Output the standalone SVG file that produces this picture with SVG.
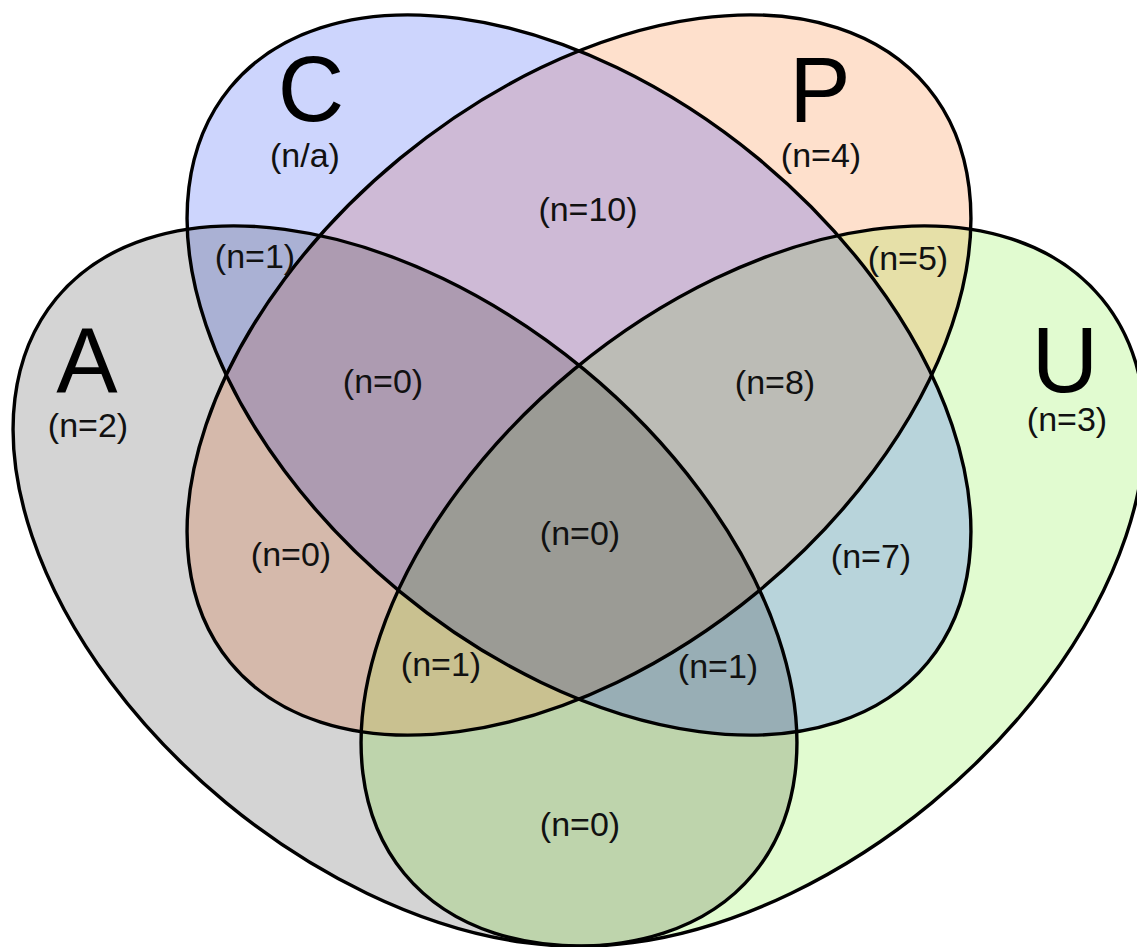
<svg xmlns="http://www.w3.org/2000/svg" xmlns:xlink="http://www.w3.org/1999/xlink" width="1137" height="947" viewBox="0 0 1137 947">
<defs>
<style>
.o{fill:none;stroke:#000;stroke-width:3.4}
.big{font-family:"Liberation Sans",Arial,sans-serif;font-size:92px;text-anchor:middle;fill:#000}
.n{font-family:"Liberation Sans",Arial,sans-serif;font-size:34px;text-anchor:middle;fill:#111}
</style>
<ellipse id="eA" cx="405" cy="586" rx="452" ry="281" transform="rotate(39.5 405 586)"/>
<ellipse id="eC" cx="579" cy="375" rx="452" ry="281" transform="rotate(39.5 579 375)"/>
<ellipse id="eP" cx="579" cy="375" rx="452" ry="281" transform="rotate(-39.5 579 375)"/>
<ellipse id="eU" cx="753" cy="586" rx="452" ry="281" transform="rotate(-39.5 753 586)"/>
<clipPath id="kA"><use href="#eA"/></clipPath>
<clipPath id="kC"><use href="#eC"/></clipPath>
<clipPath id="kP"><use href="#eP"/></clipPath>
<clipPath id="kU"><use href="#eU"/></clipPath>
</defs>
<rect width="1137" height="947" fill="#fff"/>
<g id="regions">
<use href="#eA" fill="#d4d4d4"/>
<use href="#eU" fill="#e1fbd0"/>
<use href="#eC" fill="#cdd5fd"/>
<use href="#eP" fill="#fee0cc"/>
<g clip-path="url(#kA)"><use href="#eC" fill="#aab1d4"/></g>
<g clip-path="url(#kA)"><use href="#eP" fill="#d5b9ab"/></g>
<g clip-path="url(#kA)"><use href="#eU" fill="#bed4ac"/></g>
<g clip-path="url(#kC)"><use href="#eP" fill="#cebad6"/></g>
<g clip-path="url(#kC)"><use href="#eU" fill="#b8d4db"/></g>
<g clip-path="url(#kP)"><use href="#eU" fill="#e6e0a8"/></g>
<g clip-path="url(#kA)"><g clip-path="url(#kC)"><use href="#eP" fill="#ad9bb1"/></g></g>
<g clip-path="url(#kA)"><g clip-path="url(#kC)"><use href="#eU" fill="#98aeb5"/></g></g>
<g clip-path="url(#kA)"><g clip-path="url(#kP)"><use href="#eU" fill="#c9c190"/></g></g>
<g clip-path="url(#kC)"><g clip-path="url(#kP)"><use href="#eU" fill="#bcbcb6"/></g></g>
<g clip-path="url(#kA)"><g clip-path="url(#kC)"><g clip-path="url(#kP)"><use href="#eU" fill="#9b9b95"/></g></g></g>
</g>
<g id="set-A"><use href="#eA" class="o"/><text class="big" x="87" y="393">A</text><text class="n" x="88" y="437">(n=2)</text></g>
<g id="set-C"><use href="#eC" class="o"/><text class="big" x="311" y="121">C</text><text class="n" x="305" y="167">(n/a)</text></g>
<g id="set-P"><use href="#eP" class="o"/><text class="big" x="820" y="122">P</text><text class="n" x="821" y="167">(n=4)</text></g>
<g id="set-U"><use href="#eU" class="o"/><text class="big" x="1065" y="392">U</text><text class="n" x="1067" y="431">(n=3)</text></g>
<g id="counts">
<text class="n" x="588" y="221">(n=10)</text>
<text class="n" x="255" y="268">(n=1)</text>
<text class="n" x="908" y="270">(n=5)</text>
<text class="n" x="383" y="393">(n=0)</text>
<text class="n" x="775" y="394">(n=8)</text>
<text class="n" x="291" y="566">(n=0)</text>
<text class="n" x="580" y="545">(n=0)</text>
<text class="n" x="871" y="568">(n=7)</text>
<text class="n" x="441" y="676">(n=1)</text>
<text class="n" x="718" y="678">(n=1)</text>
<text class="n" x="580" y="836">(n=0)</text>
</g>
</svg>
